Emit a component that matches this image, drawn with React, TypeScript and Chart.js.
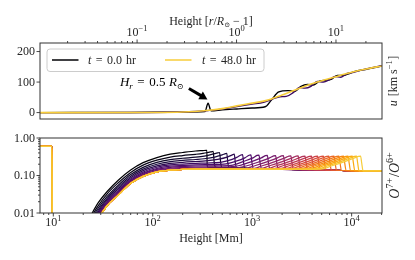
import React, { useEffect, useRef } from 'react';
import { Chart, registerables } from 'chart.js';
Chart.register(...registerables);

const FONT = '"Liberation Serif", "DejaVu Serif", serif';
const INK = '#262626';
const SPINE = '#333333';

const R_SUN_MM = 696;
const HEIGHT_MIN = 7.35;
const HEIGHT_MAX = 20200;

// ---------- top panel: wind speed u [km/s] vs height [Mm]
const U_MIN = -21;
const U_MAX = 228;
const U_TICKS = [0, 100, 200];
const TOP_EXPONENTS = [-1, 0, 1];

const H_T0 = [7, 60, 200, 335, 360, 385, 500, 700, 1000, 1350, 1550, 1850, 2300, 2700, 3100, 3600, 4100, 4800, 5500, 6300, 7200, 8300, 9500, 11000, 13000, 20500];
const U_T0 = [0, 0.5, 1.5, 3, 31, 6, 9, 12, 15, 19, 40, 68, 72, 70, 86, 92, 90, 104, 106, 110, 122, 122, 128, 136, 140, 153];

const H_T10 = [7, 100, 348, 500, 700, 1000, 1300, 1600, 1900, 2200, 2600, 3000, 3400, 3900, 4500, 5200, 6000, 6800, 7800, 9000, 10500, 12500, 20500];
const U_T10 = [0, 0.5, 6, 12, 20, 28, 34, 44, 52, 53, 66, 82, 80, 86, 102, 100, 108, 118, 116, 128, 132, 139, 154];

const H_T48 = [7, 100, 200, 348, 500, 700, 1000, 1400, 2000, 3000, 4500, 6500, 10000, 14000, 20500];
const U_T48 = [0, 0.5, 2, 7, 13, 22, 31, 40, 58, 80, 100, 115, 132, 143, 153];

const LEGEND_TIMES = ['0.0', '48.0'];

// annotation anchors (data coordinates)
const NOTE_H = 46.8;
const NOTE_U = 87.5;
const ARROW_TAIL_H = 231;
const ARROW_TAIL_U = 79;
const ARROW_TIP_H = 355;
const ARROW_TIP_U = 43;

// ---------- bottom panel: O7+/O6+ vs height [Mm]
const RATIO_MIN = 0.01;
const RATIO_MAX = 1.0;
const RATIO_TICKS = [0.01, 0.1, 1];
const RATIO_TICK_LABELS = ['0.01', '0.10', '1.00'];
const BOTTOM_EXPONENTS = [1, 2, 3, 4];

const TIMES_HR = [0, 2, 4, 6, 8, 10, 12, 14, 16, 18, 20, 22, 24, 26, 28, 30, 32, 34, 36, 38, 40, 42, 44, 46, 48];

const STEP_H = [7, 9.7, 9.75];
const STEP_R = [0.6, 0.6, 0.0005];

const RISE_H = [22, 28, 35, 45, 60, 80, 110, 150, 200, 270];
const RISE_T0 = [0.006, 0.018, 0.038, 0.075, 0.14, 0.22, 0.3, 0.37, 0.41, 0.45];
const RISE_T2 = [0.0053, 0.015, 0.033, 0.064, 0.121, 0.189, 0.256, 0.31, 0.34, 0.368];
const RISE_T4 = [0.0047, 0.013, 0.028, 0.055, 0.106, 0.165, 0.223, 0.266, 0.288, 0.308];
const RISE_T6 = [0.0043, 0.0115, 0.025, 0.049, 0.096, 0.148, 0.199, 0.234, 0.252, 0.267];
const RISE_T8 = [0.004, 0.0104, 0.023, 0.044, 0.087, 0.135, 0.181, 0.21, 0.224, 0.236];
const RISE_T10 = [0.0037, 0.0095, 0.021, 0.04, 0.08, 0.124, 0.166, 0.191, 0.202, 0.211];
const RISE_T12 = [0.0035, 0.0088, 0.0197, 0.0374, 0.075, 0.116, 0.154, 0.177, 0.186, 0.193];
const RISE_T14 = [0.0034, 0.0082, 0.0185, 0.035, 0.071, 0.11, 0.145, 0.165, 0.173, 0.179];
const RISE_T16 = [0.0032, 0.0078, 0.0176, 0.033, 0.068, 0.104, 0.138, 0.156, 0.163, 0.167];
const RISE_T18 = [0.0031, 0.0074, 0.0169, 0.0317, 0.065, 0.1, 0.132, 0.148, 0.154, 0.158];
const RISE_T20 = [0.0031, 0.0072, 0.0165, 0.0309, 0.0636, 0.0975, 0.128, 0.144, 0.15, 0.153];
const RISE_LATE = [0.003, 0.007, 0.016, 0.03, 0.062, 0.095, 0.125, 0.14, 0.145, 0.148];
const RISE_BY_LINE = [
  RISE_T0, RISE_T2, RISE_T4, RISE_T6, RISE_T8, RISE_T10, RISE_T12, RISE_T14, RISE_T16, RISE_T18, RISE_T20,
  RISE_LATE, RISE_LATE, RISE_LATE, RISE_LATE, RISE_LATE, RISE_LATE, RISE_LATE, RISE_LATE, RISE_LATE,
  RISE_LATE, RISE_LATE, RISE_LATE, RISE_LATE, RISE_LATE,
];

const TAIL_H = [
  [320, 345, 350, 353],
  [320, 370, 395, 405, 416, 430],
  [330, 400, 450, 470, 483, 498],
  [330, 420, 500, 540, 555, 570, 588],
  [340, 450, 560, 630, 660, 678, 699],
  [350, 480, 560, 700, 770, 800, 822, 847],
  [400, 520, 670, 845, 930, 970, 997, 1027],
  [450, 614, 810, 1019, 1117, 1170, 1203, 1240],
  [500, 745, 983, 1237, 1356, 1420, 1460, 1505],
  [685, 903, 1190, 1498, 1643, 1720, 1769, 1823],
  [820, 1082, 1426, 1794, 1967, 2060, 2118, 2181],
  [975, 1286, 1695, 2134, 2340, 2450, 2519, 2595],
  [1154, 1523, 2007, 2526, 2770, 2900, 2981, 3071],
  [1353, 1785, 2353, 2961, 3247, 3400, 3495, 3601],
  [1572, 2074, 2733, 3440, 3772, 3950, 4061, 4183],
  [1811, 2389, 3149, 3963, 4345, 4550, 4677, 4818],
  [2070, 2730, 3598, 4529, 4966, 5200, 5346, 5507],
  [2348, 3098, 4083, 5139, 5635, 5900, 6065, 6248],
  [2647, 3491, 4602, 5792, 6351, 6650, 6836, 7042],
  [2965, 3911, 5155, 6489, 7115, 7450, 7659, 7890],
  [3303, 4358, 5744, 7229, 7927, 8300, 8532, 8790],
  [3662, 4830, 6366, 8013, 8786, 9200, 9458, 9743],
  [4040, 5329, 7024, 8841, 9693, 10150, 10434, 10749],
  [4458, 5880, 7750, 9755, 10696, 11200, 11514, 11861],
  [4895, 6458, 8512, 10713, 11747, 12300, 12644, 13026],
];
const TAIL_R = [
  [0.462, 0.468, 0.47, 0.168],
  [0.39, 0.42, 0.435, 0.44, 0.21, 0.164],
  [0.33, 0.37, 0.4, 0.41, 0.21, 0.162],
  [0.28, 0.31, 0.355, 0.382, 0.39, 0.21, 0.161],
  [0.245, 0.27, 0.31, 0.355, 0.37, 0.21, 0.157],
  [0.215, 0.225, 0.245, 0.305, 0.352, 0.36, 0.21, 0.155],
  [0.195, 0.2, 0.235, 0.295, 0.348, 0.355, 0.21, 0.152],
  [0.18, 0.186, 0.235, 0.295, 0.343, 0.35, 0.21, 0.151],
  [0.168, 0.185, 0.235, 0.295, 0.338, 0.345, 0.21, 0.15],
  [0.16, 0.185, 0.235, 0.295, 0.333, 0.34, 0.21, 0.149],
  [0.152, 0.185, 0.235, 0.295, 0.333, 0.34, 0.21, 0.147],
  [0.148, 0.185, 0.235, 0.295, 0.328, 0.335, 0.21, 0.146],
  [0.148, 0.185, 0.235, 0.295, 0.328, 0.335, 0.21, 0.144],
  [0.148, 0.185, 0.235, 0.295, 0.323, 0.33, 0.21, 0.143],
  [0.148, 0.185, 0.235, 0.295, 0.323, 0.33, 0.21, 0.141],
  [0.148, 0.185, 0.235, 0.295, 0.323, 0.33, 0.21, 0.14],
  [0.148, 0.185, 0.235, 0.295, 0.323, 0.33, 0.21, 0.139],
  [0.148, 0.185, 0.235, 0.295, 0.323, 0.33, 0.21, 0.138],
  [0.148, 0.185, 0.235, 0.295, 0.323, 0.33, 0.21, 0.137],
  [0.148, 0.185, 0.235, 0.295, 0.323, 0.33, 0.21, 0.1365],
  [0.148, 0.185, 0.235, 0.295, 0.323, 0.33, 0.21, 0.136],
  [0.148, 0.185, 0.235, 0.295, 0.323, 0.33, 0.21, 0.135],
  [0.148, 0.185, 0.235, 0.295, 0.323, 0.33, 0.21, 0.134],
  [0.148, 0.185, 0.235, 0.295, 0.323, 0.33, 0.21, 0.1335],
  [0.148, 0.185, 0.235, 0.295, 0.323, 0.33, 0.21, 0.133],
];

const AHEAD_H = [400, 500, 700, 1000, 1500, 2000, 3000, 4000, 6000, 8000, 10000, 13000, 16000, 20500];
const AHEAD_R = [0.165, 0.162, 0.157, 0.152, 0.149, 0.146, 0.143, 0.14, 0.138, 0.136, 0.135, 0.133, 0.133, 0.133];

// ---------- colours (inferno colormap, truncated)
const INFERNO = ['#000004', '#160b39', '#420a68', '#6a176e', '#932667', '#bc3754', '#dd513a', '#f37819', '#fca50a', '#f6d746', '#fcffa4'];
const CMAP_TOP = 0.88;

function hexToRgb(h: string) {
  return [parseInt(h.slice(1, 3), 16), parseInt(h.slice(3, 5), 16), parseInt(h.slice(5, 7), 16)];
}
function inferno(s: number) {
  const p = Math.max(0, Math.min(1, s)) * 10;
  const i = Math.min(9, Math.floor(p));
  const f = p - i;
  const a = hexToRgb(INFERNO[i]);
  const b = hexToRgb(INFERNO[i + 1]);
  const c = a.map((v, k) => Math.round(v + (b[k] - v) * f));
  return `rgb(${c[0]},${c[1]},${c[2]})`;
}
const timeColor = (t: number) => inferno((t / 48) * CMAP_TOP);

// ---------- text helpers
type Part = { t: string; it?: boolean; s?: number; dy?: number; dx?: number };
function fontOf(p: Part, base: number) {
  return `${p.it ? 'italic ' : ''}${p.s ?? base}px ${FONT}`;
}
function drawRich(ctx: CanvasRenderingContext2D, parts: Part[], x: number, y: number, align: string, base: number) {
  let w = 0;
  for (const p of parts) {
    ctx.font = fontOf(p, base);
    w += ctx.measureText(p.t).width + (p.dx || 0);
  }
  let cx = align === 'center' ? x - w / 2 : align === 'right' ? x - w : x;
  ctx.textAlign = 'left';
  for (const p of parts) {
    ctx.font = fontOf(p, base);
    cx += p.dx || 0;
    ctx.fillText(p.t, cx, y + (p.dy || 0));
    cx += ctx.measureText(p.t).width;
  }
}
function seg(ctx: CanvasRenderingContext2D, x1: number, y1: number, x2: number, y2: number) {
  ctx.beginPath();
  ctx.moveTo(x1, y1);
  ctx.lineTo(x2, y2);
  ctx.stroke();
}
const expText = (e: number) => (e < 0 ? '\u2212' + Math.abs(e) : String(e));

// ---------- plugins
const topDecor = {
  id: 'topDecor',
  afterDraw(chart: any) {
    const { ctx, chartArea: a, scales } = chart;
    const xs = scales.x;
    const ys = scales.y;
    ctx.save();
    ctx.strokeStyle = SPINE;
    ctx.lineWidth = 1;
    ctx.strokeRect(a.left, a.top, a.right - a.left, a.bottom - a.top);
    ctx.fillStyle = INK;
    // y ticks
    ctx.lineWidth = 0.9;
    for (const v of U_TICKS) {
      const y = ys.getPixelForValue(v);
      seg(ctx, a.left - 3.5, y, a.left, y);
      ctx.font = `12px ${FONT}`;
      ctx.textAlign = 'right';
      ctx.textBaseline = 'middle';
      ctx.fillText(String(v), a.left - 5, y + 0.5);
    }
    ctx.textBaseline = 'alphabetic';
    // top ticks in r/Rsun - 1
    for (let d = -2; d <= 1; d++) {
      for (let k = 1; k <= 9; k++) {
        const h = k * Math.pow(10, d) * R_SUN_MM;
        if (h < HEIGHT_MIN || h > HEIGHT_MAX) continue;
        const x = xs.getPixelForValue(h);
        seg(ctx, x, a.top, x, a.top - (k === 1 ? 3.5 : 2));
      }
    }
    for (const e of TOP_EXPONENTS) {
      const x = xs.getPixelForValue(Math.pow(10, e) * R_SUN_MM);
      drawRich(ctx, [{ t: '10' }, { t: expText(e), s: 8.5, dy: -5 }], x, a.top - 7, 'center', 12);
    }
    drawRich(
      ctx,
      [{ t: 'Height [' }, { t: 'r', it: true }, { t: '/' }, { t: 'R', it: true }, { t: '\u2299', s: 7, dy: 2.5 }, { t: '\u2212', dx: 3 }, { t: '1]', dx: 3 }],
      (a.left + a.right) / 2,
      a.top - 18.5,
      'center',
      12
    );
    // right label
    ctx.save();
    ctx.translate(a.right + 15, (a.top + a.bottom) / 2);
    ctx.rotate(-Math.PI / 2);
    drawRich(ctx, [{ t: 'u', it: true }, { t: '[km s', dx: 4 }, { t: '\u22121', s: 8.5, dy: -5 }, { t: ']', dx: 0.5 }], 0, 0, 'center', 12);
    ctx.restore();
    // legend
    const lx = a.left + 7;
    const ly = a.top + 6;
    ctx.fillStyle = 'rgba(255,255,255,0.8)';
    ctx.strokeStyle = '#cccccc';
    ctx.lineWidth = 1;
    ctx.beginPath();
    ctx.roundRect(lx, ly, 217, 22.5, 3);
    ctx.fill();
    ctx.stroke();
    const entries = [
      { color: timeColor(0), x0: a.left + 12, tx: a.left + 48, label: LEGEND_TIMES[0] },
      { color: timeColor(48), x0: a.left + 125, tx: a.left + 162, label: LEGEND_TIMES[1] },
    ];
    for (const en of entries) {
      ctx.strokeStyle = en.color;
      ctx.lineWidth = 1.5;
      seg(ctx, en.x0, ly + 11, en.x0 + 26.5, ly + 11);
      ctx.fillStyle = INK;
      drawRich(ctx, [{ t: 't', it: true }, { t: '=', dx: 4.5 }, { t: en.label, dx: 4.5 }, { t: 'hr', dx: 4 }], en.tx, ly + 14.5, 'left', 12);
    }
    // annotation
    ctx.fillStyle = '#000';
    drawRich(
      ctx,
      [{ t: 'H', it: true }, { t: 'r', it: true, s: 9, dy: 3 }, { t: '=', dx: 4.5 }, { t: '0.5', dx: 4.5 }, { t: 'R', it: true, dx: 3.5 }, { t: '\u2299', s: 8, dy: 3 }],
      xs.getPixelForValue(NOTE_H),
      ys.getPixelForValue(NOTE_U),
      'left',
      13
    );
    const tx0 = xs.getPixelForValue(ARROW_TAIL_H);
    const ty0 = ys.getPixelForValue(ARROW_TAIL_U);
    const tx1 = xs.getPixelForValue(ARROW_TIP_H);
    const ty1 = ys.getPixelForValue(ARROW_TIP_U);
    const len = Math.hypot(tx1 - tx0, ty1 - ty0);
    const ux = (tx1 - tx0) / len;
    const uy = (ty1 - ty0) / len;
    const bx = tx1 - ux * 8;
    const by = ty1 - uy * 8;
    ctx.strokeStyle = '#000';
    ctx.lineWidth = 3;
    seg(ctx, tx0, ty0, bx + ux, by + uy);
    ctx.beginPath();
    ctx.moveTo(tx1, ty1);
    ctx.lineTo(bx - uy * 4.5, by + ux * 4.5);
    ctx.lineTo(bx + uy * 4.5, by - ux * 4.5);
    ctx.closePath();
    ctx.fill();
    ctx.restore();
  },
};

const bottomDecor = {
  id: 'bottomDecor',
  afterDraw(chart: any) {
    const { ctx, chartArea: a, scales } = chart;
    const xs = scales.x;
    const ys = scales.y;
    ctx.save();
    ctx.strokeStyle = SPINE;
    ctx.lineWidth = 1;
    ctx.strokeRect(a.left, a.top, a.right - a.left, a.bottom - a.top);
    ctx.fillStyle = INK;
    ctx.lineWidth = 0.9;
    // y ticks (log)
    for (let d = -2; d <= 0; d++) {
      for (let k = 1; k <= 9; k++) {
        const v = k * Math.pow(10, d);
        if (v < RATIO_MIN || v > RATIO_MAX) continue;
        const y = ys.getPixelForValue(v);
        seg(ctx, a.left - (k === 1 ? 3.5 : 2), y, a.left, y);
      }
    }
    RATIO_TICKS.forEach((v, i) => {
      const y = ys.getPixelForValue(v);
      ctx.font = `12px ${FONT}`;
      ctx.textAlign = 'right';
      ctx.textBaseline = 'middle';
      ctx.fillText(RATIO_TICK_LABELS[i], a.left - 5, y + 0.5);
    });
    ctx.textBaseline = 'alphabetic';
    // x ticks (log)
    for (let d = 0; d <= 4; d++) {
      for (let k = 1; k <= 9; k++) {
        const h = k * Math.pow(10, d);
        if (h < HEIGHT_MIN || h > HEIGHT_MAX) continue;
        const x = xs.getPixelForValue(h);
        seg(ctx, x, a.bottom, x, a.bottom + (k === 1 ? 3.5 : 2));
      }
    }
    for (const e of BOTTOM_EXPONENTS) {
      const x = xs.getPixelForValue(Math.pow(10, e));
      drawRich(ctx, [{ t: '10' }, { t: expText(e), s: 8.5, dy: -5 }], x, a.bottom + 12.5, 'center', 12);
    }
    drawRich(ctx, [{ t: 'Height [Mm]' }], (a.left + a.right) / 2, a.bottom + 29, 'center', 12);
    ctx.save();
    ctx.translate(a.right + 17, (a.top + a.bottom) / 2);
    ctx.rotate(-Math.PI / 2);
    drawRich(
      ctx,
      [{ t: 'O', it: true }, { t: '7+', s: 10, dy: -6 }, { t: '/', dx: 1 }, { t: 'O', it: true }, { t: '6+', s: 10, dy: -6 }],
      0,
      0,
      'center',
      14
    );
    ctx.restore();
    ctx.restore();
  },
};

function pairs(hs: number[], vs: number[]) {
  return hs.map((h, i) => ({ x: h, y: vs[i] }));
}

function ratioLine(i: number) {
  const pts = [...pairs(STEP_H, STEP_R), ...pairs(RISE_H, RISE_BY_LINE[i]), ...pairs(TAIL_H[i], TAIL_R[i])];
  const last = TAIL_H[i][TAIL_H[i].length - 1];
  AHEAD_H.forEach((h, j) => {
    if (h > last * 1.08) pts.push({ x: h, y: AHEAD_R[j] });
  });
  return pts;
}

export default function App() {
  const topRef = useRef<HTMLCanvasElement>(null);
  const botRef = useRef<HTMLCanvasElement>(null);

  useEffect(() => {
    const common = {
      animation: false as const,
      responsive: false,
      devicePixelRatio: 1,
      plugins: { legend: { display: false }, tooltip: { enabled: false } },
      elements: { point: { radius: 0 } },
    };
    const topChart = new Chart(topRef.current!, {
      type: 'line',
      data: {
        datasets: [
          { label: 't = 0.0 hr', data: pairs(H_T0, U_T0), borderColor: timeColor(0), borderWidth: 1.4, pointRadius: 0, cubicInterpolationMode: 'monotone', order: 2 },
          { label: 't = 10.0 hr', data: pairs(H_T10, U_T10), borderColor: timeColor(10), borderWidth: 1.4, pointRadius: 0, cubicInterpolationMode: 'monotone', order: 1 },
          { label: 't = 48.0 hr', data: pairs(H_T48, U_T48), borderColor: timeColor(48), borderWidth: 1.6, pointRadius: 0, cubicInterpolationMode: 'monotone', order: 0 },
        ],
      },
      options: {
        ...common,
        layout: { padding: { left: 40, right: 33, top: 43, bottom: 9 } },
        scales: {
          x: { type: 'logarithmic', min: HEIGHT_MIN, max: HEIGHT_MAX, display: false },
          y: { type: 'linear', min: U_MIN, max: U_MAX, display: false },
        },
      } as any,
      plugins: [topDecor],
    });
    const bottomChart = new Chart(botRef.current!, {
      type: 'line',
      data: {
        datasets: TIMES_HR.map((t, i) => ({
          label: `t = ${t} hr`,
          data: ratioLine(i),
          borderColor: timeColor(t),
          borderWidth: 1.2,
          pointRadius: 0,
          cubicInterpolationMode: 'monotone' as const,
          order: TIMES_HR.length - i,
        })),
      },
      options: {
        ...common,
        layout: { padding: { left: 40, right: 33, top: 10, bottom: 47 } },
        scales: {
          x: { type: 'logarithmic', min: HEIGHT_MIN, max: HEIGHT_MAX, display: false },
          y: { type: 'logarithmic', min: RATIO_MIN, max: RATIO_MAX, display: false },
        },
      } as any,
      plugins: [bottomDecor],
    });
    return () => {
      topChart.destroy();
      bottomChart.destroy();
    };
  }, []);

  return (
    <div style={{ position: 'absolute', left: 0, top: 0, width: 415, height: 260, background: '#fff' }}>
      <canvas ref={topRef} width={415} height={128} style={{ position: 'absolute', left: 0, top: 0 }} />
      <canvas ref={botRef} width={415} height={132} style={{ position: 'absolute', left: 0, top: 128 }} />
    </div>
  );
}
